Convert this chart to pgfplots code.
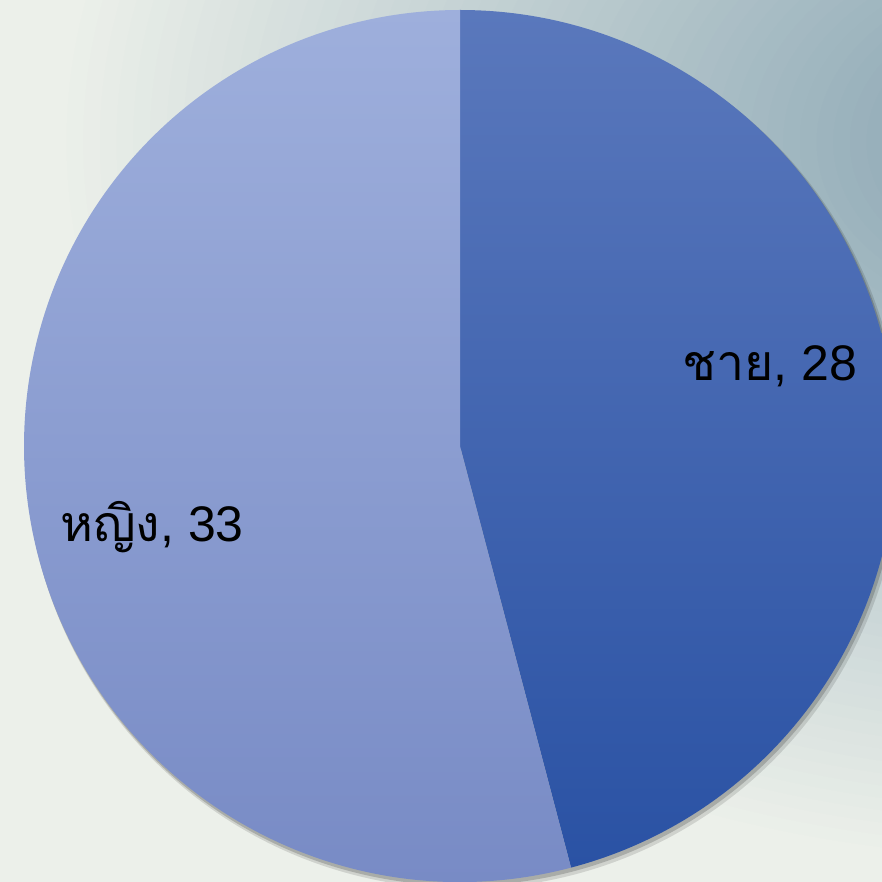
\documentclass[border=0pt]{standalone}
\usepackage{pgfplots}
\pgfplotsset{compat=1.18}
\usepackage{fontspec}
\setmainfont{Liberation Sans}
\newfontfamily\thaifont[Script=Thai]{Loma}
\definecolor{bgbase}{HTML}{ECF0EA}
\definecolor{bgcorner}{HTML}{96AFBA}
\definecolor{mtop}{HTML}{5A78BC}
\definecolor{mbot}{HTML}{2A52A4}
\definecolor{ftop}{HTML}{9EAFDC}
\definecolor{fbot}{HTML}{7689C4}
\pgfmathsetmacro\male{28}
\pgfmathsetmacro\female{33}
\begin{document}
\begin{tikzpicture}
\begin{axis}[
  width=8cm, height=8cm, scale only axis,
  xmin=0, xmax=882, ymin=0, ymax=882,
  hide axis, clip=true,
]
% background
\addplot[draw=none, fill=bgbase] coordinates {(0,0) (882,0) (882,882) (0,882)} -- cycle;
\foreach \k in {1,...,50}{
  \pgfmathsetmacro\pc{2*\k}
  \pgfmathsetmacro\rs{1-\k/60}
  \pgfmathsetmacro\rx{9.07*\rs}
  \pgfmathsetmacro\ry{6.6*\rs}
  \edef\temp{\noexpand\fill[bgcorner!\pc!bgbase] (axis cs:1050,740) ellipse [x radius=\rx cm, y radius=\ry cm];}
  \temp
}
\pgfmathsetmacro\ang{\male/(\male+\female)*360}
\pgfmathsetmacro\endang{90-\ang}
\def\R{3.9546cm}
% shadow
\fill[black, opacity=0.12] ([xshift=0.9pt,yshift=-1.3pt]axis cs:460,436) circle [radius=3.97cm];
\fill[black, opacity=0.18] ([xshift=0.5pt,yshift=-0.8pt]axis cs:460,436) circle [radius=3.96cm];
% male sector
\shade[top color=mtop, bottom color=mbot] (axis cs:460,436) -- ++(90:\R) arc[start angle=90, end angle=\endang, radius=\R] -- cycle;
% female sector
\shade[top color=ftop, bottom color=fbot] (axis cs:460,436) -- ++(\endang:\R) arc[start angle=\endang, end angle=-270, radius=\R] -- cycle;
\node[font=\fontsize{12.9}{16}\selectfont, anchor=center] at (axis cs:770,516) {{\thaifont ชาย}, 28};
\node[font=\fontsize{12.9}{16}\selectfont, anchor=center] at (axis cs:152,355) {{\thaifont หญิง}, 33};
\end{axis}
\end{tikzpicture}
\end{document}
